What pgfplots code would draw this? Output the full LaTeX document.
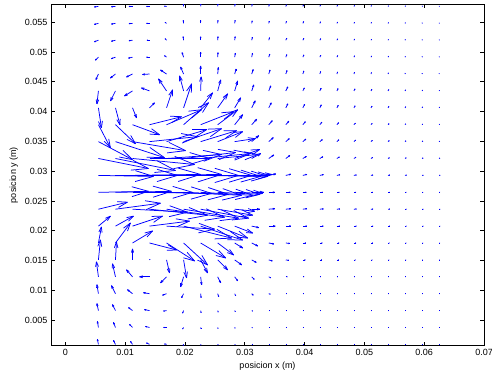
\documentclass[border=0pt]{standalone}
\usepackage{pgfplots}
\pgfplotsset{compat=1.18}
\usepackage{pgfplotstable}
\usepackage{fontspec}
\setmainfont{Liberation Sans}

% x, y in m; u, v = arrow components as drawn (in screen units, 1 unit ~ 0.000167 m)
\pgfplotstableread{
x y u v
0.00553 0.00092 -1 5
0.00838 0.00092 -2 4
0.01123 0.00092 -2 3
0.01407 0.00092 -3 1.5
0.01692 0.00092 -2 0.5
0.01977 0.00092 -0.5 -1
0.02262 0.00092 0.3 -0.7
0.02547 0.00092 0.4 -0.5
0.02831 0.00092 0.5 -0.3
0.03116 0.00092 0.6 0
0.03401 0.00092 0.6 0
0.03686 0.00092 0.6 0
0.03971 0.00092 0.6 0
0.04255 0.00092 0.5 0
0.04540 0.00092 0.5 0
0.04825 0.00092 0.5 0
0.05110 0.00092 0.5 0
0.05395 0.00092 0.4 0
0.05679 0.00092 0.4 0
0.05964 0.00092 0.4 0
0.06249 0.00092 0.3 0
0.00553 0.00376 -1 6
0.00838 0.00376 -2 5
0.01123 0.00376 -3 3
0.01407 0.00376 -4 1
0.01692 0.00376 -3 0
0.01977 0.00376 -1 -1.5
0.02262 0.00376 0.3 -1
0.02547 0.00376 0.4 -1
0.02831 0.00376 0.5 -0.7
0.03116 0.00376 0.7 -0.3
0.03401 0.00376 0.7 0
0.03686 0.00376 0.7 0
0.03971 0.00376 0.6 0
0.04255 0.00376 0.6 0
0.04540 0.00376 0.6 0
0.04825 0.00376 0.5 0
0.05110 0.00376 0.5 0
0.05395 0.00376 0.5 0
0.05679 0.00376 0.4 0
0.05964 0.00376 0.4 0
0.06249 0.00376 0.4 0
0.00553 0.00659 -1.5 7
0.00838 0.00659 -3 6
0.01123 0.00659 -4 3
0.01407 0.00659 -5 1
0.01692 0.00659 -3 -0.5
0.01977 0.00659 -1 -2.5
0.02262 0.00659 0.5 -2
0.02547 0.00659 0.5 -1.5
0.02831 0.00659 0.7 -1
0.03116 0.00659 1 -0.5
0.03401 0.00659 1 0
0.03686 0.00659 0.8 0
0.03971 0.00659 0.8 0
0.04255 0.00659 0.7 0
0.04540 0.00659 0.7 0
0.04825 0.00659 0.6 0
0.05110 0.00659 0.6 0
0.05395 0.00659 0.5 0
0.05679 0.00659 0.5 0
0.05964 0.00659 0.4 0
0.06249 0.00659 0.4 0
0.00553 0.00943 -1.5 9
0.00838 0.00943 -4 8
0.01123 0.00943 -5 4
0.01407 0.00943 -6 1
0.01692 0.00943 -4 -1.5
0.01977 0.00943 -2 -4
0.02262 0.00943 0.5 -4
0.02547 0.00943 1 -3
0.02831 0.00943 1 -2
0.03116 0.00943 1.5 -1.5
0.03401 0.00943 1.5 -0.5
0.03686 0.00943 1 0
0.03971 0.00943 1 0
0.04255 0.00943 0.9 0
0.04540 0.00943 0.8 0
0.04825 0.00943 0.8 0
0.05110 0.00943 0.7 0
0.05395 0.00943 0.6 0
0.05679 0.00943 0.5 0
0.05964 0.00943 0.5 0
0.06249 0.00943 0.4 0
0.00553 0.01226 -2 15
0.00838 0.01226 -3 13
0.01123 0.01226 -6 7
0.01407 0.01226 -10 0
0.01692 0.01226 -6 -6
0.01977 0.01226 -3 -10
0.02262 0.01226 1 -8
0.02547 0.01226 3 -6
0.02831 0.01226 3 -4
0.03116 0.01226 2.5 -2.5
0.03401 0.01226 2 -1
0.03686 0.01226 1.5 0
0.03971 0.01226 1.2 0
0.04255 0.01226 1 0
0.04540 0.01226 1 0
0.04825 0.01226 0.9 0
0.05110 0.01226 0.8 0
0.05395 0.01226 0.7 0
0.05679 0.01226 0.6 0
0.05964 0.01226 0.5 0
0.06249 0.01226 0.5 0
0.00553 0.01510 2 20
0.00838 0.01510 1 18
0.01123 0.01510 0 11
0.01407 0.01510 0.5 0.5
0.01692 0.01510 3 -13
0.01977 0.01510 3 -18
0.02262 0.01510 7 -13
0.02547 0.01510 10 -10
0.02831 0.01510 7 -5
0.03116 0.01510 4.5 -2.5
0.03401 0.01510 3.5 -1
0.03686 0.01510 3 -0.5
0.03971 0.01510 2.5 0
0.04255 0.01510 2 0
0.04540 0.01510 1.8 0
0.04825 0.01510 1.5 0
0.05110 0.01510 1.3 0
0.05395 0.01510 1.1 0
0.05679 0.01510 1 0
0.05964 0.01510 0.8 0
0.06249 0.01510 0.7 0
0.00553 0.01794 3 16
0.00838 0.01794 15 20
0.01123 0.01794 20 12
0.01407 0.01794 27 -7
0.01692 0.01794 28 -18
0.01977 0.01794 24 -22
0.02262 0.01794 25 -15
0.02547 0.01794 16 -12
0.02831 0.01794 8 -5
0.03116 0.01794 6 -3
0.03401 0.01794 5 -1
0.03686 0.01794 4 -0.5
0.03971 0.01794 3 0
0.04255 0.01794 2.5 0
0.04540 0.01794 2.2 0
0.04825 0.01794 2 0
0.05110 0.01794 1.7 0
0.05395 0.01794 1.4 0
0.05679 0.01794 1.2 0
0.05964 0.01794 1 0
0.06249 0.01794 0.8 0
0.00553 0.02077 12 10
0.00838 0.02077 18 10
0.01123 0.02077 30 10
0.01407 0.02077 40 5
0.01692 0.02077 48 -3
0.01977 0.02077 48 -12
0.02262 0.02077 42 -14
0.02547 0.02077 30 -12
0.02831 0.02077 18 -7
0.03116 0.02077 7 -1.5
0.03401 0.02077 6.5 0
0.03686 0.02077 5 0
0.03971 0.02077 4 0
0.04255 0.02077 3.5 0
0.04540 0.02077 3 0
0.04825 0.02077 2.5 0
0.05110 0.02077 2 0
0.05395 0.02077 1.7 0
0.05679 0.02077 1.4 0
0.05964 0.02077 1.2 0
0.06249 0.02077 1 0
0.00553 0.02361 29 7
0.00838 0.02361 45 6
0.01123 0.02361 55 -3
0.01407 0.02361 58 -6
0.01692 0.02361 58 -8
0.01977 0.02361 55 -9
0.02262 0.02361 48 -9
0.02547 0.02361 35 -6
0.02831 0.02361 20 -2
0.03116 0.02361 8 0
0.03401 0.02361 6 0.5
0.03686 0.02361 5 0.5
0.03971 0.02361 4 0.5
0.04255 0.02361 3.5 0.3
0.04540 0.02361 3 0.2
0.04825 0.02361 2.5 0.2
0.05110 0.02361 2 0.1
0.05395 0.02361 1.7 0.1
0.05679 0.02361 1.4 0
0.05964 0.02361 1.2 0
0.06249 0.02361 1 0
0.00553 0.02644 50 1
0.00838 0.02644 56 1
0.01123 0.02644 60 0
0.01407 0.02644 62 -1
0.01692 0.02644 62 -2
0.01977 0.02644 58 -3
0.02262 0.02644 52 -3
0.02547 0.02644 42 -2
0.02831 0.02644 28 -1
0.03116 0.02644 12 0
0.03401 0.02644 6 0
0.03686 0.02644 4.5 0
0.03971 0.02644 3.5 0
0.04255 0.02644 3 0
0.04540 0.02644 2.5 0
0.04825 0.02644 2 0
0.05110 0.02644 1.8 0
0.05395 0.02644 1.5 0
0.05679 0.02644 1.2 0
0.05964 0.02644 1 0
0.06249 0.02644 0.8 0
0.00553 0.02928 55 -1
0.00838 0.02928 62 0
0.01123 0.02928 68 1
0.01407 0.02928 72 1
0.01692 0.02928 72 0
0.01977 0.02928 68 0
0.02262 0.02928 60 -1
0.02547 0.02928 50 -1
0.02831 0.02928 35 0
0.03116 0.02928 20 1
0.03401 0.02928 7 1.5
0.03686 0.02928 5 1.2
0.03971 0.02928 4 1
0.04255 0.02928 3.5 0.8
0.04540 0.02928 3 0.7
0.04825 0.02928 2.5 0.5
0.05110 0.02928 2 0.4
0.05395 0.02928 1.8 0.3
0.05679 0.02928 1.5 0.3
0.05964 0.02928 1.2 0.2
0.06249 0.02928 1 0.2
0.00553 0.03212 50 -10
0.00838 0.03212 60 -12
0.01123 0.03212 62 -6
0.01407 0.03212 60 0
0.01692 0.03212 55 4
0.01977 0.03212 52 6
0.02262 0.03212 50 5
0.02547 0.03212 40 4
0.02831 0.03212 25 9
0.03116 0.03212 9 5
0.03401 0.03212 5 3.5
0.03686 0.03212 4 3
0.03971 0.03212 3.5 2
0.04255 0.03212 3 1.8
0.04540 0.03212 2.5 1.5
0.04825 0.03212 2 1.2
0.05110 0.03212 1.7 1
0.05395 0.03212 1.4 0.8
0.05679 0.03212 1.2 0.7
0.05964 0.03212 1 0.5
0.06249 0.03212 0.8 0.4
0.00553 0.03495 34 -18
0.00838 0.03495 49 -16
0.01123 0.03495 53 -9
0.01407 0.03495 48 5
0.01692 0.03495 40 12
0.01977 0.03495 38 13
0.02262 0.03495 36 11
0.02547 0.03495 25 10
0.02831 0.03495 20 3
0.03116 0.03495 7 6
0.03401 0.03495 4.5 4
0.03686 0.03495 3.5 3
0.03971 0.03495 3 2.5
0.04255 0.03495 2.5 2
0.04540 0.03495 2 1.8
0.04825 0.03495 1.7 1.5
0.05110 0.03495 1.4 1.2
0.05395 0.03495 1.2 1
0.05679 0.03495 1 0.8
0.05964 0.03495 0.8 0.6
0.06249 0.03495 0.6 0.5
0.00553 0.03779 12 -23
0.00838 0.03779 20 -19
0.01123 0.03779 27 -10
0.01407 0.03779 32 8
0.01692 0.03779 35 15
0.01977 0.03779 25 22
0.02262 0.03779 33 13
0.02547 0.03779 20 15
0.02831 0.03779 8 10
0.03116 0.03779 5 5.5
0.03401 0.03779 3.5 4
0.03686 0.03779 3 3.5
0.03971 0.03779 2.5 3
0.04255 0.03779 2 2.5
0.04540 0.03779 1.8 2
0.04825 0.03779 1.5 1.5
0.05110 0.03779 1.2 1.2
0.05395 0.03779 1 1
0.05679 0.03779 0.8 0.8
0.05964 0.03779 0.6 0.6
0.06249 0.03779 0.5 0.5
0.00553 0.04062 3 -20
0.00838 0.04062 4.5 -17
0.01123 0.04062 4 -10
0.01407 0.04062 5 5
0.01692 0.04062 6 18
0.01977 0.04062 8 24
0.02262 0.04062 12 15
0.02547 0.04062 10 14
0.02831 0.04062 6 10
0.03116 0.04062 3.5 7
0.03401 0.04062 2.5 5
0.03686 0.04062 2 4
0.03971 0.04062 1.8 3.5
0.04255 0.04062 1.5 3
0.04540 0.04062 1.4 2.5
0.04825 0.04062 1.2 2
0.05110 0.04062 1 1.7
0.05395 0.04062 0.9 1.4
0.05679 0.04062 0.7 1.1
0.05964 0.04062 0.6 0.9
0.06249 0.04062 0.5 0.7
0.00553 0.04346 -1.5 -13
0.00838 0.04346 -5 -10
0.01123 0.04346 -8 -5
0.01407 0.04346 -8 3
0.01692 0.04346 -8 12
0.01977 0.04346 -4 15
0.02262 0.04346 0.5 14
0.02547 0.04346 3 11
0.02831 0.04346 3 10
0.03116 0.04346 2 6
0.03401 0.04346 2 5
0.03686 0.04346 2 4
0.03971 0.04346 1.5 3
0.04255 0.04346 1.3 2.7
0.04540 0.04346 1.2 2.3
0.04825 0.04346 1 2
0.05110 0.04346 0.9 1.6
0.05395 0.04346 0.8 1.3
0.05679 0.04346 0.6 1
0.05964 0.04346 0.5 0.8
0.06249 0.04346 0.4 0.6
0.00553 0.04630 -2.5 -5.5
0.00838 0.04630 -5 -4
0.01123 0.04630 -6 -3
0.01407 0.04630 -7 -0.5
0.01692 0.04630 -6 4
0.01977 0.04630 -3 7
0.02262 0.04630 0 8
0.02547 0.04630 0.7 6.5
0.02831 0.04630 1.5 5
0.03116 0.04630 1.5 4.5
0.03401 0.04630 1.3 4
0.03686 0.04630 1.2 3.5
0.03971 0.04630 1 3
0.04255 0.04630 0.8 2.5
0.04540 0.04630 0.7 2
0.04825 0.04630 0.6 1.7
0.05110 0.04630 0.5 1.4
0.05395 0.04630 0.4 1.1
0.05679 0.04630 0.3 0.9
0.05964 0.04630 0.3 0.7
0.06249 0.04630 0.2 0.5
0.00553 0.04913 -3 -3
0.00838 0.04913 -4 -1.5
0.01123 0.04913 -4 -1
0.01407 0.04913 -3 0
0.01692 0.04913 -2 1.5
0.01977 0.04913 -1.5 4.5
0.02262 0.04913 0 5
0.02547 0.04913 0.3 4.5
0.02831 0.04913 0.7 4
0.03116 0.04913 0.8 4
0.03401 0.04913 1 3
0.03686 0.04913 1 2.5
0.03971 0.04913 1 2.2
0.04255 0.04913 0.9 1.8
0.04540 0.04913 0.8 1.5
0.04825 0.04913 0.7 1.3
0.05110 0.04913 0.6 1.1
0.05395 0.04913 0.5 0.9
0.05679 0.04913 0.4 0.7
0.05964 0.04913 0.3 0.5
0.06249 0.04913 0.3 0.4
0.00553 0.05197 -4 -1.5
0.00838 0.05197 -4 -1
0.01123 0.05197 -3.5 -0.5
0.01407 0.05197 -2.5 0
0.01692 0.05197 -1.5 1.5
0.01977 0.05197 -0.5 3.5
0.02262 0.05197 0 3.5
0.02547 0.05197 0.3 3.5
0.02831 0.05197 0.5 3.5
0.03116 0.05197 0.7 3
0.03401 0.05197 0.8 2.5
0.03686 0.05197 1 2
0.03971 0.05197 1 1.8
0.04255 0.05197 0.9 1.5
0.04540 0.05197 0.8 1.3
0.04825 0.05197 0.7 1.1
0.05110 0.05197 0.6 0.9
0.05395 0.05197 0.5 0.7
0.05679 0.05197 0.4 0.6
0.05964 0.05197 0.3 0.5
0.06249 0.05197 0.3 0.4
0.00553 0.05480 -4 -1
0.00838 0.05480 -4 -0.7
0.01123 0.05480 -3.5 -0.3
0.01407 0.05480 -3 0
0.01692 0.05480 -1.5 1
0.01977 0.05480 -0.3 3
0.02262 0.05480 0 3
0.02547 0.05480 0.3 3
0.02831 0.05480 0.5 3
0.03116 0.05480 0.5 2.5
0.03401 0.05480 0.6 2.2
0.03686 0.05480 0.7 2
0.03971 0.05480 0.8 1.8
0.04255 0.05480 0.7 1.5
0.04540 0.05480 0.7 1.2
0.04825 0.05480 0.6 1
0.05110 0.05480 0.5 0.9
0.05395 0.05480 0.5 0.7
0.05679 0.05480 0.4 0.6
0.05964 0.05480 0.3 0.5
0.06249 0.05480 0.3 0.4
0.00553 0.05764 -4 -0.5
0.00838 0.05764 -4 -0.3
0.01123 0.05764 -3.5 0
0.01407 0.05764 -3 0
0.01692 0.05764 -2 0.3
0.01977 0.05764 -0.3 2.5
0.02262 0.05764 0.2 2.5
0.02547 0.05764 0.3 2.5
0.02831 0.05764 0.5 2.3
0.03116 0.05764 0.5 2
0.03401 0.05764 0.5 1.8
0.03686 0.05764 0.6 1.6
0.03971 0.05764 0.6 1.4
0.04255 0.05764 0.6 1.2
0.04540 0.05764 0.6 1
0.04825 0.05764 0.6 0.9
0.05110 0.05764 0.5 0.8
0.05395 0.05764 0.5 0.6
0.05679 0.05764 0.5 0.5
0.05964 0.05764 0.4 0.4
0.06249 0.05764 0.3 0.3
}\field

\begin{document}
\begin{tikzpicture}
\fill[white] (-51pt,-31.3pt) rectangle ++(492pt,377pt);
\begin{axis}[
  at={(0,0)}, anchor=south west,
  scale only axis, width=433pt, height=341.4pt,
  xmin=-0.0024, xmax=0.07, ymin=0.0007, ymax=0.058,
  scaled x ticks=false, scaled y ticks=false,
  xtick={0,0.01,0.02,0.03,0.04,0.05,0.06,0.07},
  xticklabels={0,0.01,0.02,0.03,0.04,0.05,0.06,0.07},
  ytick={0.005,0.01,0.015,0.02,0.025,0.03,0.035,0.04,0.045,0.05,0.055},
  yticklabels={0.005,0.01,0.015,0.02,0.025,0.03,0.035,0.04,0.045,0.05,0.055},
  tick align=inside, major tick length=4pt,
  tick label style={font=\fontsize{9}{10}\selectfont},
  label style={font=\fontsize{9}{10}\selectfont},
  xlabel={posicion x (m)}, ylabel={posicion y (m)},
  axis background/.style={fill=white},
  axis line style={line width=0.6pt},
  every tick/.style={black, line width=0.6pt},
  arr/.style={color={rgb,255:red,0;green,0;blue,255}, line width=0.75pt},
]
\coordinate (O) at (rel axis cs:0,0);
% shafts
\addplot[arr, quiver={u=\thisrow{u}*0.0001672, v=\thisrow{v}*0.0001678}] table {\field};
% arrow head barbs
\addplot[arr, quiver={u={-0.33*(\thisrow{u}+0.3*\thisrow{v})*0.0001672}, v={-0.33*(\thisrow{v}-0.3*\thisrow{u})*0.0001678}}]
  table[x expr=\thisrow{x}+\thisrow{u}*0.0001672, y expr=\thisrow{y}+\thisrow{v}*0.0001678] {\field};
\addplot[arr, quiver={u={-0.33*(\thisrow{u}-0.3*\thisrow{v})*0.0001672}, v={-0.33*(\thisrow{v}+0.3*\thisrow{u})*0.0001678}}]
  table[x expr=\thisrow{x}+\thisrow{u}*0.0001672, y expr=\thisrow{y}+\thisrow{v}*0.0001678] {\field};
\end{axis}
\pgfresetboundingbox
\path (O) ++(-51pt,-31.3pt) rectangle ++(492pt,377pt);
\end{tikzpicture}
\end{document}
